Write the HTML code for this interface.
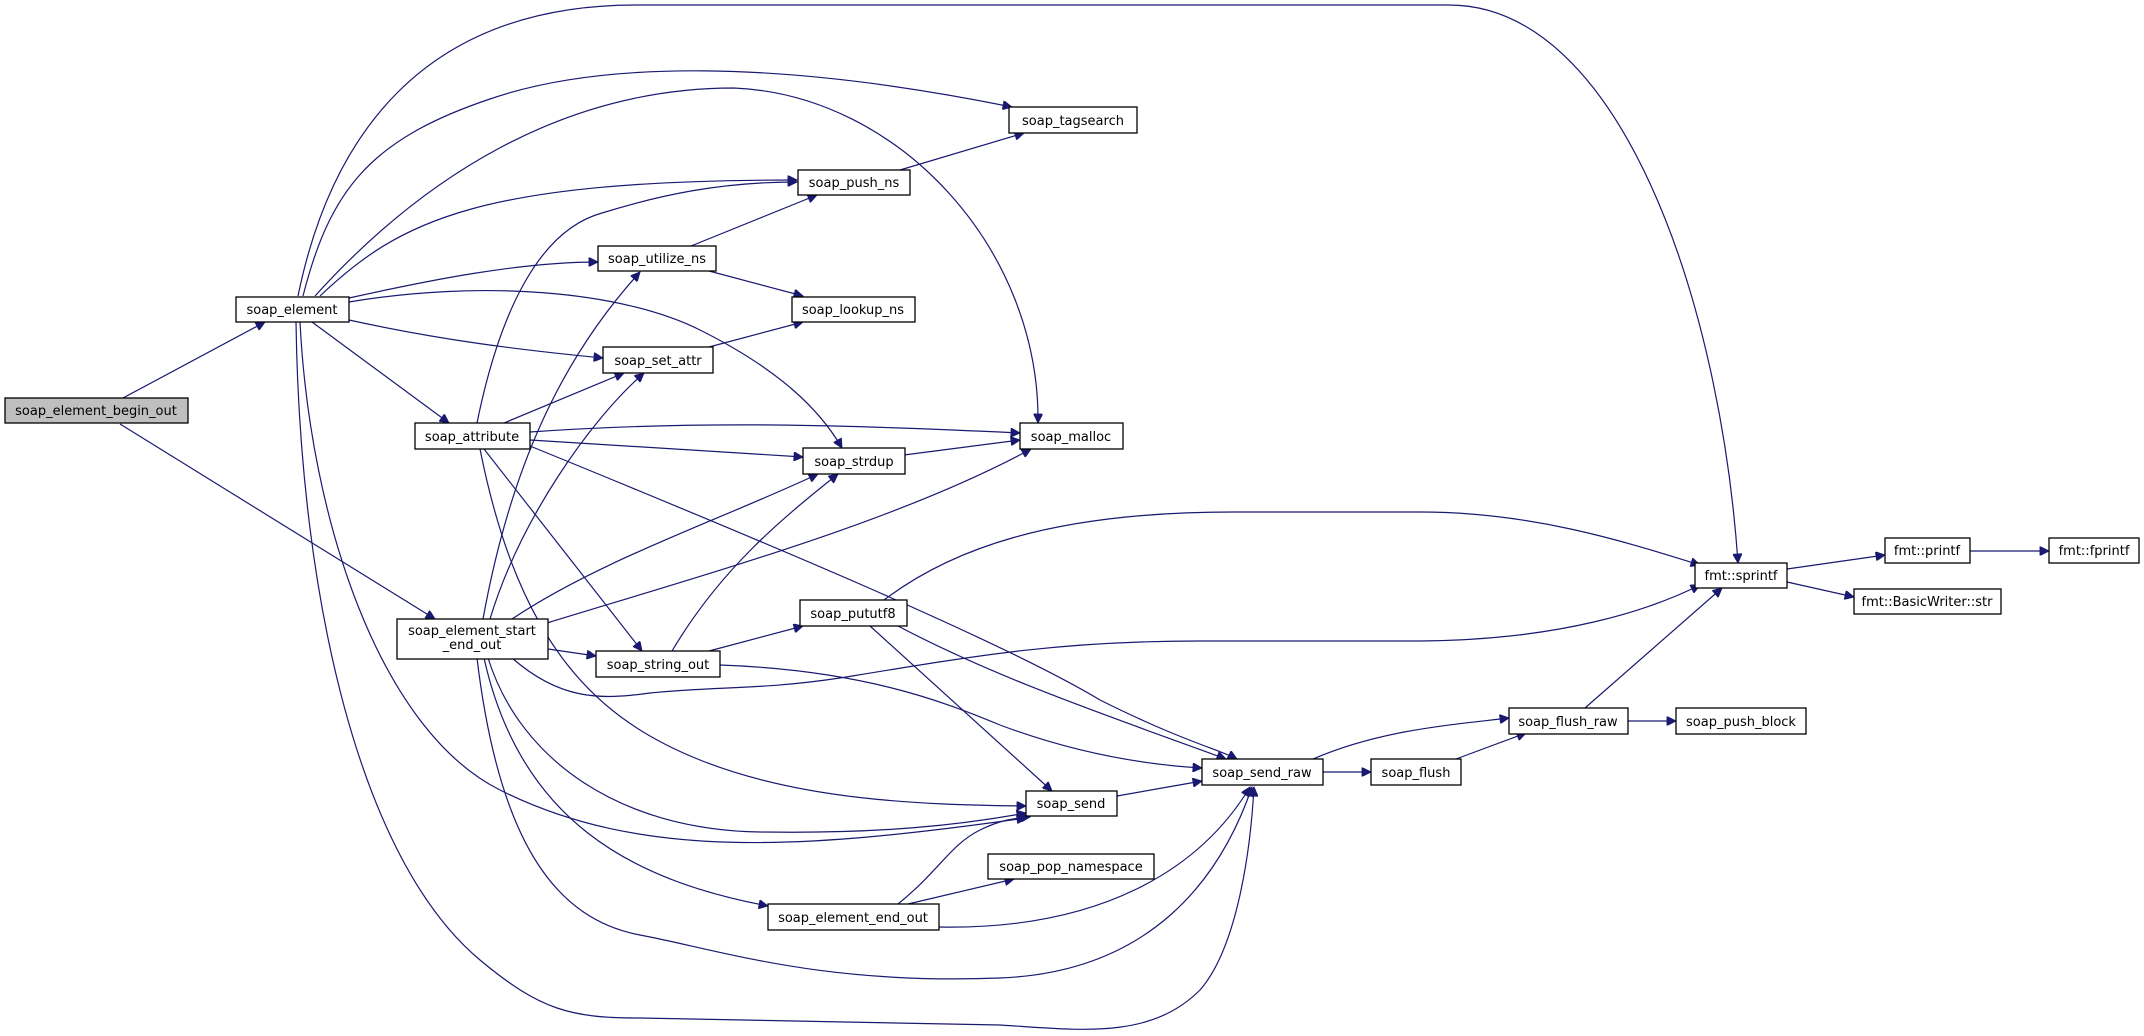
<!DOCTYPE html>
<html><head><meta charset="utf-8"><style>
html,body{margin:0;padding:0;background:#fff;}
svg{display:block;}
text{font-family:"DejaVu Sans","Liberation Sans",sans-serif;font-size:13px;fill:#000;}
.e{fill:none;stroke:#191970;stroke-width:1.2;}
.n{fill:#fff;stroke:#000;stroke-width:1.3;}
</style></head><body>
<svg width="2144" height="1036" viewBox="0 0 2144 1036" xmlns="http://www.w3.org/2000/svg">
<defs>
<marker id="a" viewBox="0 0 10 10" refX="10" refY="5" markerWidth="12" markerHeight="9" markerUnits="userSpaceOnUse" orient="auto"><path d="M0,0 L10,5 L0,10 z" fill="#191970" stroke="#191970"/></marker>
</defs>
<g class="e" marker-end="url(#a)">
<path d="M123,398 L265,322"/>
<path d="M120,424 L435,619"/>
<path d="M298,296 C330,140 420,5 636,5 L1449,5 C1620,5 1720,300 1738,563"/>
<path d="M303,296 C330,190 370,140 487,100 C600,60 780,60 1012,107"/>
<path d="M315,296 C420,180 560,88 734,88 C900,95 1040,250 1038,423"/>
<path d="M320,296 C400,220 480,180 797,180"/>
<path d="M349,298 C430,280 520,262 598,262"/>
<path d="M349,302 C480,280 620,290 700,330 C780,370 820,410 842,448"/>
<path d="M349,320 C440,340 520,350 603,358"/>
<path d="M312,322 L449,423"/>
<path d="M300,322 C310,520 380,730 500,790 C640,860 800,850 1026,818"/>
<path d="M296,322 C300,600 360,860 480,960 C540,1010 570,1018 640,1018 L1000,1025 C1080,1030 1150,1040 1200,990 C1235,950 1250,860 1254,787"/>
<path d="M900,170 L1024,133"/>
<path d="M691,246 L817,195"/>
<path d="M709,271 L803,296"/>
<path d="M709,347 L803,322"/>
<path d="M504,423 L624,373"/>
<path d="M477,423 C500,310 540,230 602,213 C660,195 720,182 797,182"/>
<path d="M530,432 C700,420 850,425 1020,433"/>
<path d="M530,440 L803,457"/>
<path d="M530,446 C760,540 1000,640 1100,700 C1180,740 1220,750 1237,759"/>
<path d="M484,449 L642,651"/>
<path d="M480,449 C520,650 600,720 700,760 C800,800 920,805 1026,806"/>
<path d="M483,619 C510,470 560,360 640,272"/>
<path d="M490,619 C520,520 590,420 644,373"/>
<path d="M512,619 C600,560 720,520 818,474"/>
<path d="M547,623 C720,570 900,520 1031,449"/>
<path d="M548,649 L596,656"/>
<path d="M512,658 C560,700 600,700 650,693 C720,686 760,690 840,678 C980,655 1060,641 1200,641 L1420,641 C1560,640 1650,610 1700,585"/>
<path d="M488,658 C520,760 620,830 760,832 C880,834 960,825 1026,813"/>
<path d="M484,658 C520,820 630,880 768,906"/>
<path d="M477,658 C500,850 560,920 640,935 C720,950 820,985 1000,978 C1150,972 1220,880 1252,787"/>
<path d="M709,651 L803,626"/>
<path d="M672,651 C720,570 780,520 838,474"/>
<path d="M720,665 C860,670 940,700 1000,725 C1080,755 1150,765 1202,768"/>
<path d="M884,600 C950,550 1050,512 1233,512 L1420,512 C1530,512 1620,540 1700,565"/>
<path d="M870,626 L1052,791"/>
<path d="M898,626 C1000,680 1120,720 1226,759"/>
<path d="M1117,796 L1202,781"/>
<path d="M908,904 L1014,879"/>
<path d="M898,904 C940,870 950,845 980,830 C1000,820 1015,818 1030,817"/>
<path d="M939,927 C1100,930 1200,870 1250,787"/>
<path d="M1322,772 L1371,772"/>
<path d="M1313,759 C1380,730 1450,725 1509,718"/>
<path d="M1456,759 L1526,733"/>
<path d="M1585,708 L1722,588"/>
<path d="M1628,721 L1676,721"/>
<path d="M1787,569 L1885,555"/>
<path d="M1787,582 L1854,597"/>
<path d="M1970,551 L2049,551"/>
<path d="M904,455 L1020,440"/>
</g>
<g>
<rect class="n" x="5" y="398" width="183" height="25" style="fill:#bfbfbf"/><text x="96" y="415" text-anchor="middle">soap_element_begin_out</text>
<rect class="n" x="236" y="297" width="113" height="25"/><text x="292" y="314" text-anchor="middle">soap_element</text>
<rect class="n" x="1009" y="107" width="128" height="26"/><text x="1073" y="125" text-anchor="middle">soap_tagsearch</text>
<rect class="n" x="798" y="170" width="112" height="25"/><text x="854" y="187" text-anchor="middle">soap_push_ns</text>
<rect class="n" x="598" y="246" width="118" height="25"/><text x="657" y="263" text-anchor="middle">soap_utilize_ns</text>
<rect class="n" x="792" y="297" width="123" height="25"/><text x="853" y="314" text-anchor="middle">soap_lookup_ns</text>
<rect class="n" x="603" y="347" width="110" height="26"/><text x="658" y="365" text-anchor="middle">soap_set_attr</text>
<rect class="n" x="415" y="423" width="115" height="26"/><text x="472" y="441" text-anchor="middle">soap_attribute</text>
<rect class="n" x="1020" y="423" width="103" height="26"/><text x="1071" y="441" text-anchor="middle">soap_malloc</text>
<rect class="n" x="803" y="448" width="102" height="26"/><text x="854" y="466" text-anchor="middle">soap_strdup</text>
<rect class="n" x="397" y="619" width="151" height="40"/><text x="472" y="635" text-anchor="middle">soap_element_start</text><text x="472" y="649" text-anchor="middle">_end_out</text>
<rect class="n" x="596" y="651" width="124" height="26"/><text x="658" y="669" text-anchor="middle">soap_string_out</text>
<rect class="n" x="800" y="600" width="107" height="26"/><text x="853" y="618" text-anchor="middle">soap_pututf8</text>
<rect class="n" x="1026" y="791" width="91" height="25"/><text x="1071" y="808" text-anchor="middle">soap_send</text>
<rect class="n" x="988" y="854" width="166" height="25"/><text x="1071" y="871" text-anchor="middle">soap_pop_namespace</text>
<rect class="n" x="768" y="904" width="171" height="26"/><text x="853" y="922" text-anchor="middle">soap_element_end_out</text>
<rect class="n" x="1202" y="759" width="121" height="26"/><text x="1262" y="777" text-anchor="middle">soap_send_raw</text>
<rect class="n" x="1371" y="759" width="90" height="26"/><text x="1416" y="777" text-anchor="middle">soap_flush</text>
<rect class="n" x="1509" y="708" width="119" height="26"/><text x="1568" y="726" text-anchor="middle">soap_flush_raw</text>
<rect class="n" x="1676" y="708" width="130" height="26"/><text x="1741" y="726" text-anchor="middle">soap_push_block</text>
<rect class="n" x="1695" y="563" width="92" height="25"/><text x="1741" y="580" text-anchor="middle">fmt::sprintf</text>
<rect class="n" x="1885" y="538" width="85" height="25"/><text x="1927" y="555" text-anchor="middle">fmt::printf</text>
<rect class="n" x="2049" y="538" width="90" height="25"/><text x="2094" y="555" text-anchor="middle">fmt::fprintf</text>
<rect class="n" x="1854" y="589" width="147" height="25"/><text x="1927" y="606" text-anchor="middle">fmt::BasicWriter::str</text>
</g>
</svg>
</body></html>
